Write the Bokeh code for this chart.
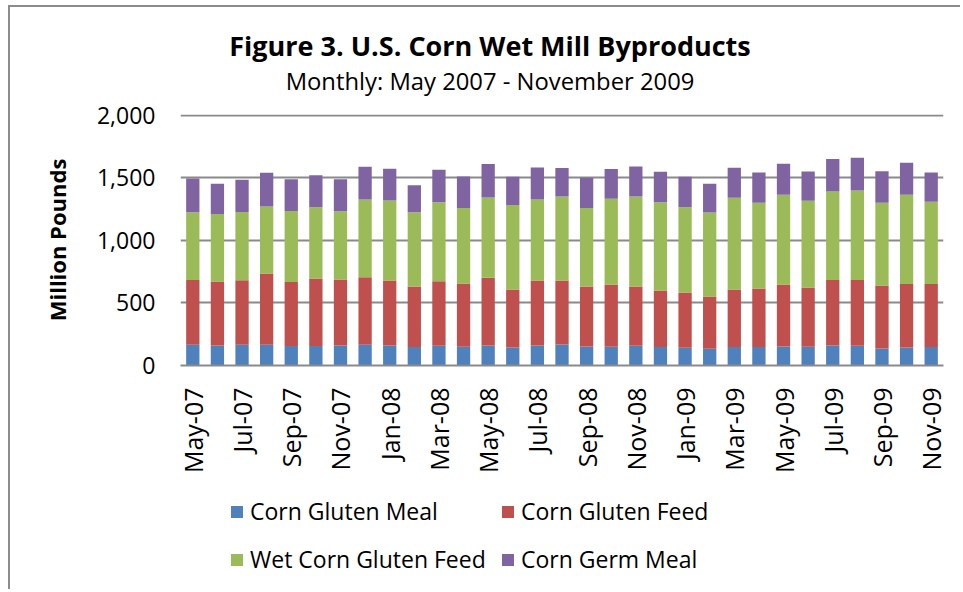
from bokeh.plotting import figure
from bokeh.layouts import column
from bokeh.models import (ColumnDataSource, Range1d, FixedTicker, NumeralTickFormatter,
                          Label, Legend, LegendItem, BoxAnnotation)
from bokeh.embed import file_html
from bokeh.resources import INLINE
import math

# ---------------- data ----------------
months = ["May-07", "Jun-07", "Jul-07", "Aug-07", "Sep-07", "Oct-07", "Nov-07", "Dec-07",
          "Jan-08", "Feb-08", "Mar-08", "Apr-08", "May-08", "Jun-08", "Jul-08", "Aug-08",
          "Sep-08", "Oct-08", "Nov-08", "Dec-08", "Jan-09", "Feb-09", "Mar-09", "Apr-09",
          "May-09", "Jun-09", "Jul-09", "Aug-09", "Sep-09", "Oct-09", "Nov-09"]
corn_gluten_meal = [166, 160, 166, 166, 155, 155, 160, 166, 160, 147, 158, 150, 160, 144, 160, 168,
                    152, 150, 158, 147, 142, 134, 147, 147, 152, 150, 160, 158, 136, 144, 147]
corn_gluten_feed = [518, 511, 516, 569, 513, 540, 527, 540, 519, 484, 516, 505, 541, 463, 519, 511,
                    479, 497, 473, 452, 441, 417, 460, 468, 495, 473, 524, 526, 503, 508, 505]
wet_corn_gluten_feed = [541, 540, 545, 535, 567, 570, 546, 620, 639, 594, 631, 604, 641, 676, 647, 671,
                        628, 685, 719, 706, 682, 671, 733, 685, 717, 693, 706, 714, 661, 712, 656]
corn_germ_meal = [270, 241, 257, 270, 254, 256, 256, 262, 254, 216, 259, 252, 268, 225, 257, 228,
                  241, 238, 241, 243, 243, 230, 240, 243, 248, 235, 260, 262, 253, 256, 235]
series_names = ["Corn Gluten Meal", "Corn Gluten Feed", "Wet Corn Gluten Feed", "Corn Germ Meal"]
series_colors = ["#4F81BD", "#C0504D", "#9BBB59", "#8064A2"]
y_ticks = [0, 500, 1000, 1500, 2000]
title_text = "Figure 3. U.S. Corn Wet Mill Byproducts"
subtitle_text = "Monthly: May 2007 - November 2009"
y_label = "Million Pounds"

FONT = "Open Sans"
W = 950
keys = ["cgm", "cgf", "wcgf", "germ"]
source = ColumnDataSource(dict(
    x=list(range(len(months))),
    cgm=corn_gluten_meal, cgf=corn_gluten_feed, wcgf=wet_corn_gluten_feed, germ=corn_germ_meal))


def bare_figure(height, x_range=None, y_range=None):
    f = figure(width=W, height=height, output_backend="svg", toolbar_location=None,
               x_range=x_range or Range1d(0, 1), y_range=y_range or Range1d(0, 1),
               x_axis_type=None, y_axis_type=None, min_border=0, title=None)
    f.outline_line_color = None
    f.xgrid.visible = False
    f.ygrid.visible = False
    f.background_fill_color = "white"
    f.border_fill_color = "white"
    return f


# In a column, Bokeh aligns every figure's frame with the chart's frame
# (left edge at canvas x = 170), so the screen offsets below are frame-relative.

# ---------------- header (title + subtitle) ----------------
header = bare_figure(93)
header.add_layout(Label(x=309.5, y=55.5, x_units="screen", y_units="screen", text=title_text,
                        text_align="center", text_baseline="middle", text_font=FONT,
                        text_font_style="bold", text_font_size="27px", text_color="#000000"))
header.add_layout(Label(x=309.5, y=19.7, x_units="screen", y_units="screen", text=subtitle_text,
                        text_align="center", text_baseline="middle", text_font=FONT,
                        text_font_size="23.8px", text_color="#000000"))

# ---------------- main chart ----------------
p = figure(width=W, height=380, output_backend="svg", toolbar_location=None, title=None,
           x_range=Range1d(-0.5, len(months) - 0.5), y_range=Range1d(0, 2006),
           min_border_left=170, min_border_right=17, min_border_top=14, min_border_bottom=115)
p.outline_line_color = None
p.background_fill_color = "white"
p.border_fill_color = "white"

renderers = p.vbar_stack(keys, x="x", width=0.54, color=series_colors, line_color=None, source=source)

p.xgrid.grid_line_color = None
p.ygrid.grid_line_color = "#8a8a8a"
p.ygrid.grid_line_width = 2
p.ygrid.ticker = FixedTicker(ticks=y_ticks)

p.yaxis.ticker = FixedTicker(ticks=y_ticks)
p.yaxis.formatter = NumeralTickFormatter(format="0,0")
p.yaxis.axis_line_color = None
p.yaxis.major_tick_line_color = None
p.yaxis.minor_tick_line_color = None
p.yaxis.major_tick_out = 0
p.yaxis.major_tick_in = 0
p.yaxis.major_label_standoff = 25
p.yaxis.major_label_text_font = FONT
p.yaxis.major_label_text_font_size = "23px"
p.yaxis.major_label_text_color = "#000000"
p.yaxis.axis_label = y_label
p.yaxis.axis_label_text_font = FONT
p.yaxis.axis_label_text_font_style = "bold"
p.yaxis.axis_label_text_font_size = "22px"
p.yaxis.axis_label_text_color = "#000000"
p.yaxis.axis_label_standoff = 22

tick_idx = list(range(0, len(months), 2))
p.xaxis.ticker = FixedTicker(ticks=tick_idx)
p.xaxis.major_label_overrides = {i: months[i] for i in tick_idx}
p.xaxis.major_label_orientation = math.pi / 2
p.xaxis.axis_line_color = "#8a8a8a"
p.xaxis.axis_line_width = 2
p.xaxis.major_tick_line_color = None
p.xaxis.minor_tick_line_color = None
p.xaxis.major_tick_out = 0
p.xaxis.major_tick_in = 0
p.xaxis.major_label_standoff = 22
p.xaxis.major_label_text_font = FONT
p.xaxis.major_label_text_font_size = "25px"
p.xaxis.major_label_text_color = "#000000"

# ---------------- legend strip ----------------
# swatch renderers only feed the legend; a white box hides any trace of them
legfig = bare_figure(109, x_range=Range1d(1000, 1001), y_range=Range1d(5000, 5001))
swatches = legfig.vbar_stack(keys, x="x", width=0.54, color=series_colors, line_color=None,
                             source=source)
legfig.add_layout(BoxAnnotation(fill_color="white", fill_alpha=1.0, line_color=None))


def make_legend(idx, vx):
    return Legend(items=[LegendItem(label=series_names[i], renderers=[swatches[i]]) for i in idx],
                  location=(vx, 14), orientation="vertical",
                  glyph_width=15, glyph_height=15, label_standoff=6, label_height=32,
                  spacing=16, padding=0, margin=0, border_line_color=None,
                  background_fill_alpha=0, label_text_font=FONT, label_text_font_size="23px",
                  label_text_color="#000000")


legfig.add_layout(make_legend([0, 2], 49), "center")
legfig.add_layout(make_legend([1, 3], 320), "center")

layout = column(header, p, legfig, spacing=0)
layout.styles = {"margin-left": "8px", "margin-top": "5px",
                 "border-left": "2px solid #8c8c8c", "border-top": "2px solid #8c8c8c"}

open("out.html", "w").write(file_html(layout, INLINE))
